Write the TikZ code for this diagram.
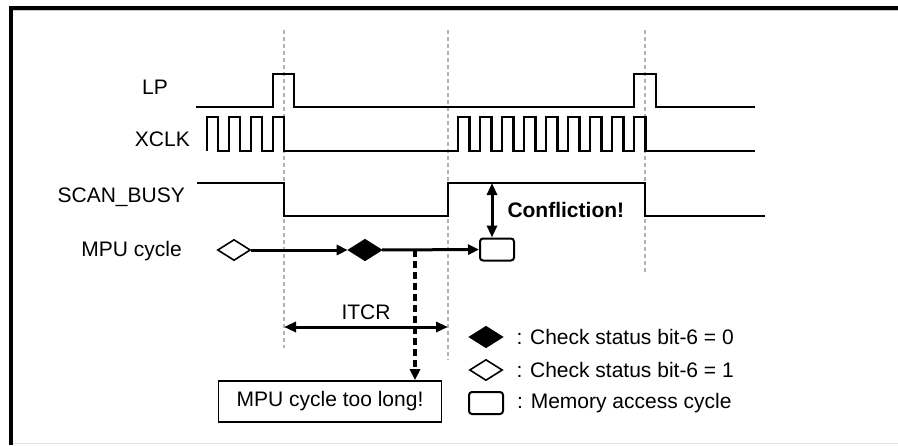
\documentclass[tikz,border=0pt]{standalone}
\usepackage{fontspec}
\setmainfont{Liberation Sans}
\usetikzlibrary{arrows.meta,positioning,shapes.geometric}

\begin{document}
\begin{tikzpicture}[
  x=1pt, y=-1pt,
  txt/.style={inner sep=0pt, font=\fontsize{21}{25}\selectfont},
  sig/.style={line width=2.3pt, line join=miter},
  guide/.style={gray!60, line width=2.2pt, dash pattern=on 4pt off 3pt},
  arr/.style={-{Triangle[length=11pt,width=10pt]}, line width=3pt},
  dbl/.style={{Triangle[length=12pt,width=10pt]}-{Triangle[length=12pt,width=10pt]}, line width=3pt},
  chk/.style={diamond, draw, line width=1.6pt, inner sep=0pt, minimum width=33pt, minimum height=21pt},
  membox/.style={draw, rounded corners=3pt, line width=2pt, minimum width=34pt, minimum height=22pt, inner sep=0pt}
]
\useasboundingbox (0,0) rectangle (898,445);

% frame
\draw[gray!20, line width=1pt] (13,443.5) -- (898,443.5);
\draw[gray!40, line width=1pt] (13,10.5) -- (898,10.5);
\draw[line width=4pt] (11,445) -- (11,8) -- (898,8);

% guide lines
\draw[guide] (284,30) -- (284,348);
\draw[guide] (448,30) -- (448,360);
\draw[guide] (645,30) -- (645,272);

% signal names
\node[txt, anchor=base east] (lp) at (168,94) {LP};
\node[txt, anchor=base east] (xclk) at (190,146.5) {XCLK};
\node[txt, anchor=base east] (busy) at (185,202) {SCAN\_BUSY};
\node[txt, anchor=base east] (mpu) at (182,256.5) {MPU cycle};

% waveforms
\draw[sig] (196,107) -- (273,107) -- (273,74) -- (294,74) -- (294,107)
  -- (634,107) -- (634,74) -- (656,74) -- (656,107) -- (755,107);
\draw[sig] (207,151)
  \foreach \k in {0,...,3} { -- ({207+22*\k},151) -- ({207+22*\k},117) -- ({218+22*\k},117) -- ({218+22*\k},151) }
  \foreach \k in {0,...,8} { -- ({458+22*\k},151) -- ({458+22*\k},117) -- ({469.5+22*\k},117) -- ({469.5+22*\k},151) }
  -- (755,151);
\draw[sig] (197,183) -- (284,183) -- (284,216) -- (448,216) -- (448,183)
  -- (645,183) -- (645,216) -- (765,216);

% MPU cycle
\node[chk] (c1) at (234,250) {};
\node[chk, fill=black] (c0) at (365,250) {};
\node[membox] (acc) at (497,249.5) {};
\draw[arr] (c1) -- (c0);
\draw[arr] (c0) -- (acc);

% confliction
\coordinate (hi) at (492,183);
\draw[dbl] (hi) -- (hi |- acc.north)
  node[txt, midway, right=14pt, font=\fontsize{21}{25}\selectfont\bfseries] (conf) {Confliction!};

% ITCR
\coordinate (t0) at (284,327);
\coordinate (t1) at (448,327);
\draw[dbl] (t0) -- (t1) node[txt, midway, above=5.5pt] (itcr) {ITCR};

% too long
\node[draw, line width=1.6pt, minimum width=223pt, minimum height=41pt, txt] (long) at (330,401.5) {MPU cycle too long!};
\coordinate (split) at (415,250);
\draw[arr, line width=3.5pt, dash pattern=on 7pt off 4pt] (split) -- (split |- long.north);

% legend
\node[chk, fill=black] (k0) at (486,337) {};
\node[chk] (k1) at (486,370) {};
\node[membox] (k2) at (486,403) {};
\node[txt, right=13pt of k0] (l0) {: Check status bit-6 = 0};
\node[txt, right=13pt of k1] (l1) {: Check status bit-6 = 1};
\node[txt, right=13pt of k2] (l2) {: Memory access cycle};
\end{tikzpicture}
\end{document}
